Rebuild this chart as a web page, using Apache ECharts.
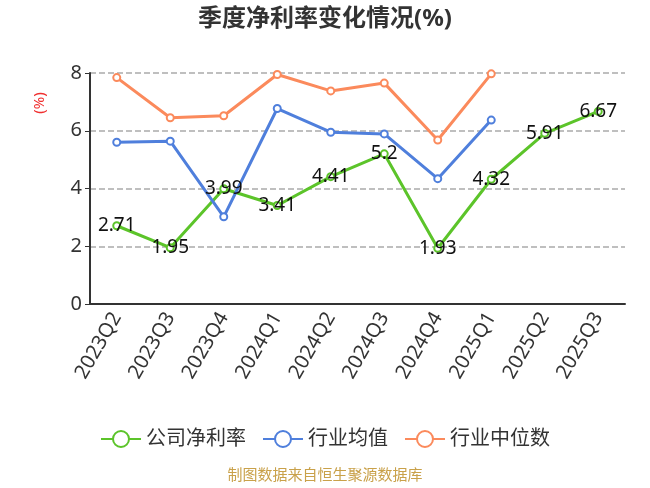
<!DOCTYPE html>
<html>
<head>
<meta charset="utf-8">
<script src="https://cdn.jsdelivr.net/npm/echarts@6/dist/echarts.min.js"></script>
<style>
html,body{margin:0;padding:0;background:#fff;}
#main{width:650px;height:488px;}
</style>
</head>
<body>
<div id="main"></div>
<script>
// 季度
var quarters = ['2023Q2','2023Q3','2023Q4','2024Q1','2024Q2','2024Q3','2024Q4','2025Q1','2025Q2','2025Q3'];
// 公司净利率
var companyRate = [2.71, 1.95, 3.99, 3.41, 4.41, 5.2, 1.93, 4.32, 5.91, 6.67];
// 行业均值
var industryAvg = [5.6, 5.64, 3.02, 6.77, 5.95, 5.89, 4.34, 6.37, null, null];
// 行业中位数
var industryMedian = [7.84, 6.45, 6.52, 7.95, 7.38, 7.65, 5.68, 7.97, null, null];

var fontFam = '"Noto Sans", "Noto Sans CJK SC", sans-serif';
var myChart = echarts.init(document.getElementById('main'));
var option = {
    textStyle: {fontFamily: fontFam},
    title: {
        text: '季度净利率变化情况(%)',
        left: 'center',
        top: 2,
        textStyle: {fontSize: 24, fontWeight: 'bold', color: '#333', fontFamily: fontFam}
    },
    graphic: [{
        type: 'text',
        left: 'center',
        top: 468,
        style: {text: '制图数据来自恒生聚源数据库', fill: '#c9a14a', fontSize: 15, fontFamily: fontFam}
    }, {
        // y轴单位
        type: 'text',
        x: 40,
        y: 103,
        rotation: Math.PI / 2,
        style: {text: '(%)', fill: '#f03030', fontSize: 15, align: 'center', verticalAlign: 'middle', fontFamily: fontFam}
    }],
    legend: {
        bottom: 34,
        itemWidth: 40,
        itemHeight: 20,
        itemGap: 16,
        textStyle: {fontSize: 20, color: '#333', fontFamily: fontFam},
        data: ['公司净利率', '行业均值', '行业中位数']
    },
    grid: {left: 90, right: 25, top: 73, bottom: 184},
    xAxis: {
        type: 'category',
        data: quarters,
        boundaryGap: true,
        axisLine: {lineStyle: {color: '#333', width: 2}},
        axisTick: {lineStyle: {color: '#333'}},
        axisLabel: {rotate: 60, fontSize: 20, color: '#333', margin: 10, fontFamily: fontFam}
    },
    yAxis: {
        type: 'value',
        min: 0,
        max: 8,
        interval: 2,
        axisLine: {show: true, lineStyle: {color: '#333', width: 2}},
        axisTick: {show: true, lineStyle: {color: '#333'}},
        axisLabel: {fontSize: 20, color: '#333', fontFamily: fontFam},
        splitLine: {lineStyle: {type: 'dashed', color: '#aaa', width: 1.5}}
    },
    series: [
        {
            name: '公司净利率',
            type: 'line',
            data: companyRate,
            symbol: 'emptyCircle',
            symbolSize: 7,
            itemStyle: {color: '#5cc42a'},
            lineStyle: {width: 3},
            label: {show: true, position: 'inside', color: '#111', fontSize: 19, fontFamily: fontFam}
        },
        {
            name: '行业均值',
            type: 'line',
            data: industryAvg,
            symbol: 'emptyCircle',
            symbolSize: 7,
            itemStyle: {color: '#4f7fdc'},
            lineStyle: {width: 3}
        },
        {
            name: '行业中位数',
            type: 'line',
            data: industryMedian,
            symbol: 'emptyCircle',
            symbolSize: 7,
            itemStyle: {color: '#fb8a5c'},
            lineStyle: {width: 3}
        }
    ]
};
myChart.setOption(option);
</script>
</body>
</html>
